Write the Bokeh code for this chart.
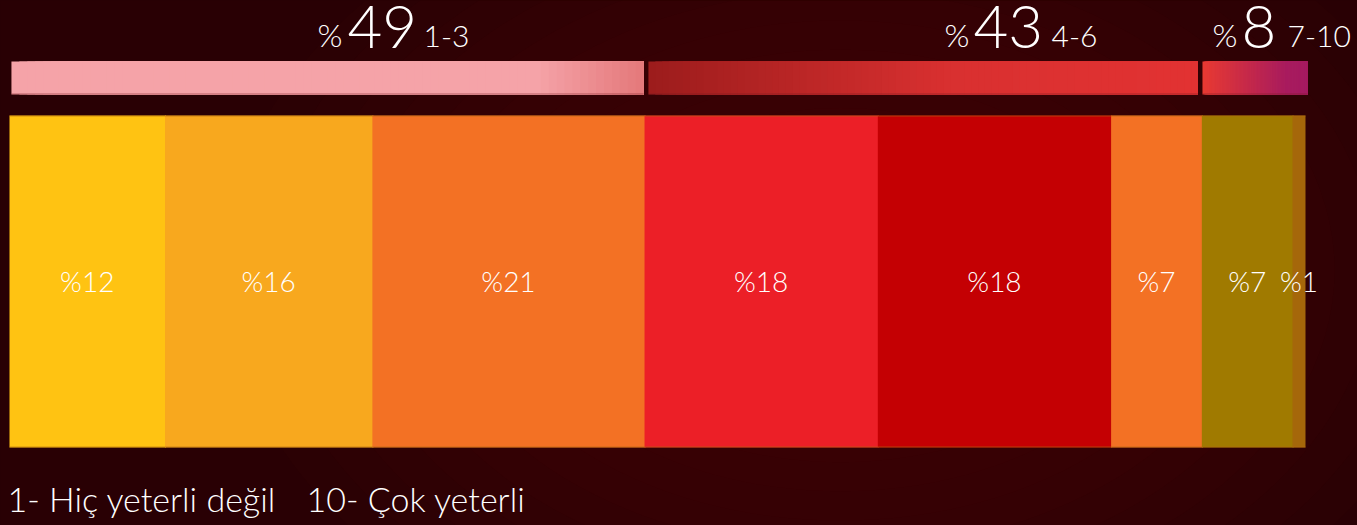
import numpy as np
from bokeh.plotting import figure
from bokeh.models import Range1d, GlobalInlineStyleSheet
from bokeh.core.properties import value
from bokeh.embed import file_html
from bokeh.resources import INLINE

# ---------------- data ----------------
scores = ["1", "2", "3", "4", "5", "6", "7", "8"]
shares = [12, 16, 21, 18, 18, 7, 7, 1]
group_names = ["1-3", "4-6", "7-10"]
group_shares = [49, 43, 8]
footnote_left = "1- Hiç yeterli değil"
footnote_right = "10- Çok yeterli"

# ---------------- styles / layout ----------------
seg_colors = ["#ffc312", "#f8a81e", "#f37124", "#ec1f27", "#c40003",
              "#f37124", "#a07a00", "#a5670a"]
group_grad = [
    [(0.0, "#f5a3a8"), (0.83, "#f5a3a8"), (1.0, "#e4787a")],
    [(0.0, "#9c1c1c"), (0.55, "#d93030"), (1.0, "#e23232")],
    [(0.0, "#e83a32"), (0.8, "#a81b5e"), (1.0, "#a51a60")],
]
BG = "#290004"
FONT = value("Lato Light, Lato")
PX = 12.96        # pixels per percent
X0 = 9            # pixel of 0 %
W, H = 1357, 525


def px(x):
    return (x - X0) / PX


fig_kw = dict(width=W, height=H, output_backend="svg", toolbar_location=None,
              min_border=0, min_border_left=0, min_border_right=0,
              min_border_top=0, min_border_bottom=0)
p = figure(**fig_kw,
           x_range=Range1d(px(0), px(W)),
           y_range=Range1d(H, 0))
p.axis.visible = False
p.grid.visible = False
p.outline_line_color = None
p.background_fill_color = BG
p.border_fill_color = BG
p.stylesheets = [GlobalInlineStyleSheet(
    css="html,body{background:%s;margin:0;padding:0;overflow:hidden;}" % BG)]

# faint textured glow in background
for k in range(12):
    f = 1 - k / 12
    p.ellipse(x=[px(840)], y=[270], width=[75 * f + 20], height=[700 * f + 150],
              fill_color="#6e161c", fill_alpha=0.04, line_color=None)

# ---------------- main stacked bar ----------------
cum = np.concatenate([[0], np.cumsum(shares)])
lefts, rights = cum[:-1], cum[1:]
ov = np.array([0.08] * (len(shares) - 1) + [0.0])
p.quad(left=lefts, right=rights + ov, bottom=447, top=115,
       fill_color=seg_colors, line_color=None)
p.segment(x0=[0, 0], x1=[cum[-1], cum[-1]], y0=[115.5, 446.5], y1=[115.5, 446.5],
          line_color="#b36a12", line_width=1, line_alpha=0.6)
mids = (lefts + rights) / 2
p.text(x=mids, y=[280] * len(shares), text=[f"%{v}" for v in shares],
       text_align="center", text_baseline="middle", text_color="white",
       text_font=FONT, text_font_size="28px")

# ---------------- group bars with gradient ----------------
gcum = np.concatenate([[0], np.cumsum(group_shares)])
pads = [(0.15, 0.07), (0.3, 0.3), (0.05, -0.15)]


def interp(stops, t):
    for (t0, c0), (t1, c1) in zip(stops[:-1], stops[1:]):
        if t0 <= t <= t1:
            f = 0 if t1 == t0 else (t - t0) / (t1 - t0)
            a = np.array([int(c0[i:i + 2], 16) for i in (1, 3, 5)])
            b = np.array([int(c1[i:i + 2], 16) for i in (1, 3, 5)])
            c = a + (b - a) * f
            return "#%02x%02x%02x" % tuple(int(round(v)) for v in c)
    return stops[-1][1]


for i in range(len(group_shares)):
    l = gcum[i] + pads[i][0]
    r = gcum[i + 1] - pads[i][1]
    n = 80
    edges = np.linspace(l, r, n + 1)
    ts = (np.arange(n) + 0.5) / n
    cols = [interp(group_grad[i], t) for t in ts]
    # each slice runs to the bar end; later slices paint over -> no seams
    p.quad(left=edges[:-1], right=[r] * n, bottom=94, top=61,
           fill_color=cols, line_color=None)
    p.segment(x0=[l], x1=[r], y0=[93.5], y1=[93.5], line_color="#7a1a22",
              line_alpha=0.5, line_width=1)

# group labels
pct_x = [317, 944, 1212]
num_x = [347, 973, 1241]
rng_x = [423, 1051, 1287]
p.text(x=[px(v) for v in pct_x], y=[34] * 3, text=["%"] * 3,
       text_align="left", text_baseline="middle", text_color="white",
       text_font=FONT, text_font_size="32px")
p.text(x=[px(v) for v in num_x], y=[26] * 3, text=[str(v) for v in group_shares],
       text_align="left", text_baseline="middle", text_color="white",
       text_font=FONT, text_font_size="60px")
p.text(x=[px(v) for v in rng_x], y=[35.5] * 3, text=group_names,
       text_align="left", text_baseline="middle", text_color="white",
       text_font=FONT, text_font_size="30px")

# footnote
p.text(x=[px(7), px(306)], y=[498, 498], text=[footnote_left, footnote_right],
       text_align="left", text_baseline="middle", text_color="white",
       text_font=FONT, text_font_size="34px")

open("out.html", "w").write(file_html(p, INLINE))
